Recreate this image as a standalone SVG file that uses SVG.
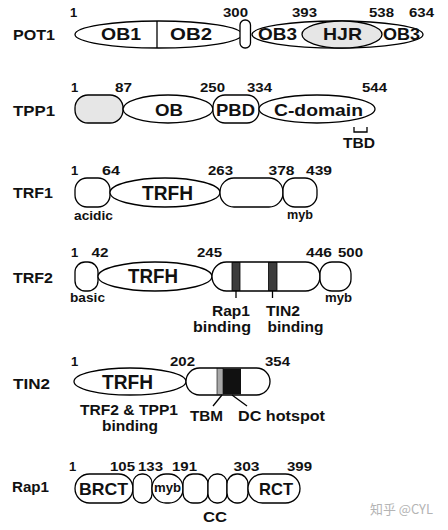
<svg xmlns="http://www.w3.org/2000/svg" width="448" height="530" viewBox="0 0 448 530">
<style>
.s{fill:#fff;stroke:#000;stroke-width:1.3}
.g{fill:#e6e6e6;stroke:#000;stroke-width:1.3}
.ln{stroke:#000;stroke-width:1.3;fill:none}
text{font-family:"Liberation Sans",Arial,sans-serif;font-weight:bold;fill:#111;text-anchor:middle}
.nm{font-size:15px}
.n{font-size:13px}
.d{font-size:17px}
.sm{font-size:13.5px}
.lb{font-size:15.5px}
.wm{font-family:"Noto Sans CJK SC","Liberation Sans",sans-serif;font-weight:normal;fill:#b4b4b4;font-size:13px;text-anchor:start}
</style>
<rect width="448" height="530" fill="#fff"/>

<g id="POT1">
<ellipse class="s" cx="158.5" cy="34.5" rx="83.5" ry="13.5"/>
<line class="ln" x1="157" y1="21" x2="157" y2="48"/>
<rect class="s" x="240" y="20" width="10.5" height="28" rx="5"/>
<ellipse class="s" cx="337.5" cy="34.5" rx="85.5" ry="13.5"/>
<ellipse class="g" cx="342" cy="34.5" rx="40" ry="13.5"/>
<text class="nm" x="34" y="39.5" textLength="42" lengthAdjust="spacingAndGlyphs">POT1</text>
<text class="n" x="73.5" y="17">1</text>
<text class="n" x="235.5" y="17" textLength="25" lengthAdjust="spacingAndGlyphs">300</text>
<text class="n" x="304.5" y="17" textLength="25" lengthAdjust="spacingAndGlyphs">393</text>
<text class="n" x="381.5" y="17" textLength="25" lengthAdjust="spacingAndGlyphs">538</text>
<text class="n" x="421.5" y="17" textLength="25" lengthAdjust="spacingAndGlyphs">634</text>
<text class="d" x="121" y="40" textLength="40" lengthAdjust="spacingAndGlyphs">OB1</text>
<text class="d" x="191" y="40" textLength="42" lengthAdjust="spacingAndGlyphs">OB2</text>
<text class="d" x="277.5" y="40" textLength="39" lengthAdjust="spacingAndGlyphs">OB3</text>
<text class="d" x="342.5" y="40" textLength="39" lengthAdjust="spacingAndGlyphs">HJR</text>
<text class="d" x="401.5" y="40" textLength="37" lengthAdjust="spacingAndGlyphs">OB3</text>
</g>

<g id="TPP1">
<rect class="g" x="75" y="95" width="48" height="28" rx="13"/>
<ellipse class="s" cx="168" cy="109" rx="45" ry="14"/>
<rect class="s" x="213" y="95" width="46" height="28" rx="12"/>
<ellipse class="s" cx="317" cy="109" rx="58" ry="14"/>
<path class="ln" d="M354 127V132H367V127"/>
<text class="nm" x="34" y="115.5" textLength="42" lengthAdjust="spacingAndGlyphs">TPP1</text>
<text class="n" x="74.5" y="92">1</text>
<text class="n" x="123.5" y="92" textLength="17" lengthAdjust="spacingAndGlyphs">87</text>
<text class="n" x="212.5" y="92" textLength="25" lengthAdjust="spacingAndGlyphs">250</text>
<text class="n" x="259.5" y="92" textLength="25" lengthAdjust="spacingAndGlyphs">334</text>
<text class="n" x="374.5" y="92" textLength="25" lengthAdjust="spacingAndGlyphs">544</text>
<text class="d" x="169" y="116" textLength="28" lengthAdjust="spacingAndGlyphs">OB</text>
<text class="d" x="235.5" y="116" textLength="39" lengthAdjust="spacingAndGlyphs">PBD</text>
<text class="d" x="318.5" y="116" textLength="89" lengthAdjust="spacingAndGlyphs">C-domain</text>
<text class="lb" x="359" y="148" textLength="32" lengthAdjust="spacingAndGlyphs">TBD</text>
</g>

<g id="TRF1">
<rect class="s" x="75" y="178" width="35" height="29" rx="12"/>
<ellipse class="s" cx="165" cy="192.5" rx="55" ry="14.5"/>
<rect class="s" x="220" y="178" width="63" height="29" rx="14"/>
<rect class="s" x="283" y="178" width="34" height="29" rx="12"/>
<text class="nm" x="33" y="197.5" textLength="40" lengthAdjust="spacingAndGlyphs">TRF1</text>
<text class="n" x="74.5" y="175">1</text>
<text class="n" x="111" y="175" textLength="18" lengthAdjust="spacingAndGlyphs">64</text>
<text class="n" x="220.5" y="175" textLength="25" lengthAdjust="spacingAndGlyphs">263</text>
<text class="n" x="281.5" y="175" textLength="26" lengthAdjust="spacingAndGlyphs">378</text>
<text class="n" x="319" y="175" textLength="26" lengthAdjust="spacingAndGlyphs">439</text>
<text class="d" x="167.5" y="200" style="font-size:19.5px" textLength="51" lengthAdjust="spacingAndGlyphs">TRFH</text>
<text class="sm" x="93.5" y="220" textLength="39" lengthAdjust="spacingAndGlyphs">acidic</text>
<text class="sm" x="300" y="219" textLength="26" lengthAdjust="spacingAndGlyphs">myb</text>
</g>

<g id="TRF2">
<rect class="s" x="75" y="262" width="23" height="29" rx="10"/>
<ellipse class="s" cx="155" cy="276.5" rx="57" ry="14.5"/>
<rect class="s" x="212" y="262" width="108" height="29" rx="14.5"/>
<rect x="232" y="262.6" width="8" height="27.8" fill="#3c3c3c" stroke="#000" stroke-width="0.8"/>
<rect x="268.5" y="262.6" width="8.5" height="27.8" fill="#3c3c3c" stroke="#000" stroke-width="0.8"/>
<line class="ln" x1="236" y1="291" x2="236" y2="298"/>
<line class="ln" x1="272.5" y1="291" x2="272.5" y2="298"/>
<rect class="s" x="320" y="262" width="31" height="29" rx="12"/>
<text class="nm" x="33" y="282.5" textLength="40" lengthAdjust="spacingAndGlyphs">TRF2</text>
<text class="n" x="74.5" y="257">1</text>
<text class="n" x="100" y="257" textLength="17" lengthAdjust="spacingAndGlyphs">42</text>
<text class="n" x="209.5" y="257" textLength="25" lengthAdjust="spacingAndGlyphs">245</text>
<text class="n" x="319" y="257" textLength="26" lengthAdjust="spacingAndGlyphs">446</text>
<text class="n" x="350.5" y="257" textLength="25" lengthAdjust="spacingAndGlyphs">500</text>
<text class="d" x="153" y="282.5" style="font-size:19.5px" textLength="50" lengthAdjust="spacingAndGlyphs">TRFH</text>
<text class="sm" x="87.5" y="302" textLength="35" lengthAdjust="spacingAndGlyphs">basic</text>
<text class="sm" x="338.5" y="302" textLength="27" lengthAdjust="spacingAndGlyphs">myb</text>
<text class="lb" x="231" y="315.5" textLength="38" lengthAdjust="spacingAndGlyphs">Rap1</text>
<text class="lb" x="222" y="331.5" textLength="58" lengthAdjust="spacingAndGlyphs">binding</text>
<text class="lb" x="283" y="315.5" textLength="34" lengthAdjust="spacingAndGlyphs">TIN2</text>
<text class="lb" x="295.5" y="331.5" textLength="56" lengthAdjust="spacingAndGlyphs">binding</text>
</g>

<g id="TIN2">
<ellipse class="s" cx="130" cy="381.5" rx="56" ry="13.5"/>
<rect class="s" x="186" y="368" width="84" height="27" rx="13.5"/>
<rect x="217" y="368.6" width="6" height="25.8" fill="#a8a8a8" stroke="#000" stroke-width="0.6"/>
<rect x="223" y="368.6" width="18" height="25.8" fill="#111"/>
<line class="ln" x1="222" y1="395" x2="213" y2="406"/>
<line class="ln" x1="232" y1="395" x2="247" y2="406"/>
<text class="nm" x="31.5" y="388.5" textLength="37" lengthAdjust="spacingAndGlyphs">TIN2</text>
<text class="n" x="74.5" y="366">1</text>
<text class="n" x="182.5" y="366" textLength="25" lengthAdjust="spacingAndGlyphs">202</text>
<text class="n" x="277.5" y="366" textLength="25" lengthAdjust="spacingAndGlyphs">354</text>
<text class="d" x="127.5" y="388.5" style="font-size:19.5px" textLength="51" lengthAdjust="spacingAndGlyphs">TRFH</text>
<text class="lb" x="129" y="414.5" textLength="98" lengthAdjust="spacingAndGlyphs">TRF2 &amp; TPP1</text>
<text class="lb" x="130" y="430.5" textLength="56" lengthAdjust="spacingAndGlyphs">binding</text>
<text class="lb" x="206.5" y="420.5" textLength="33" lengthAdjust="spacingAndGlyphs">TBM</text>
<text class="lb" x="281.5" y="420.5" textLength="87" lengthAdjust="spacingAndGlyphs">DC hotspot</text>
</g>

<g id="Rap1">
<rect class="s" x="75" y="474" width="58" height="29" rx="14.5"/>
<rect class="s" x="133" y="474" width="19" height="29" rx="9"/>
<rect class="s" x="152" y="474" width="31" height="29" rx="14"/>
<rect class="s" x="183" y="474" width="25" height="29" rx="10"/>
<rect class="s" x="208" y="474" width="19" height="29" rx="9"/>
<rect class="s" x="227" y="474" width="21" height="29" rx="10"/>
<rect class="s" x="248" y="474" width="52" height="29" rx="14.5"/>
<text class="nm" x="30.5" y="491.5" textLength="37" lengthAdjust="spacingAndGlyphs">Rap1</text>
<text class="n" x="72.5" y="471">1</text>
<text class="n" x="122.5" y="471" textLength="25" lengthAdjust="spacingAndGlyphs">105</text>
<text class="n" x="150.5" y="471" textLength="25" lengthAdjust="spacingAndGlyphs">133</text>
<text class="n" x="184.5" y="471" textLength="25" lengthAdjust="spacingAndGlyphs">191</text>
<text class="n" x="246.5" y="471" textLength="26" lengthAdjust="spacingAndGlyphs">303</text>
<text class="n" x="299.5" y="471" textLength="25" lengthAdjust="spacingAndGlyphs">399</text>
<text class="d" x="103.5" y="495" textLength="49" lengthAdjust="spacingAndGlyphs">BRCT</text>
<text class="sm" x="167.5" y="492" textLength="27" lengthAdjust="spacingAndGlyphs">myb</text>
<text class="d" x="276" y="495" textLength="34" lengthAdjust="spacingAndGlyphs">RCT</text>
<text class="lb" x="215" y="522" textLength="24" lengthAdjust="spacingAndGlyphs">CC</text>
</g>

<text class="wm" x="370" y="514" textLength="63" lengthAdjust="spacingAndGlyphs">知乎 @CYL</text>
</svg>
